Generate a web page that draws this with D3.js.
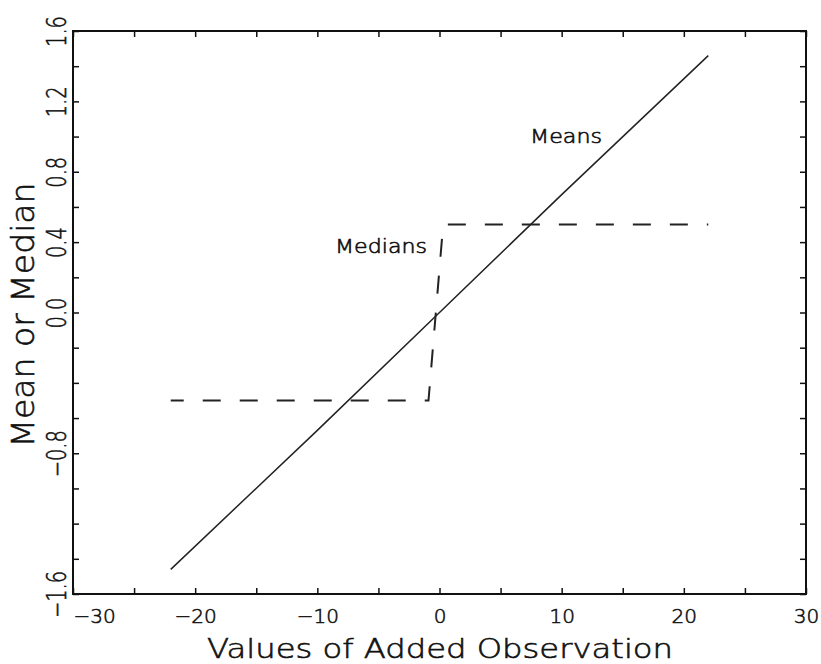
<!DOCTYPE html>
<html>
<head>
<meta charset="utf-8">
<script src="https://cdn.jsdelivr.net/npm/d3@7"></script>
<style>
  body { margin: 0; background: #fff; }
  svg { display: block; font-family: "DejaVu Sans", sans-serif; }
  svg text { font-weight: 200; stroke: #111; stroke-width: 0.6px; }
</style>
</head>
<body>
<div id="view"></div>
<script>
// values
var meanX = [-22, -10, 0, 10, 22];
var meanY = [-1.46, -0.67, 0, 0.67, 1.46];

var medX = [-22, -0.9, 0.3, 22];
var medY = [-0.5, -0.5, 0.5, 0.5];

var xTicks = [-30, -25, -20, -15, -10, -5, 0, 5, 10, 15, 20, 25, 30];
var xLabels = [-30, -20, -10, 0, 10, 20, 30];
var yTicks = [-1.6, -1.4, -1.2, -1.0, -0.8, -0.6, -0.4, -0.2, 0, 0.2, 0.4, 0.6, 0.8, 1.0, 1.2, 1.4, 1.6];
var yLabels = [-1.6, -0.8, 0, 0.4, 0.8, 1.2, 1.6];

var W = 821, H = 664;
var L = 73, R = 806, T = 31, B = 594;

var x = d3.scaleLinear().domain([-30, 30]).range([L, R]);
var y = d3.scaleLinear().domain([-1.6, 1.6]).range([B, T]);

function fmt(v) { return d3.format(".1f")(v).replace("-", "\u2212"); }
function fmtX(v) { return xLabels.indexOf(v) >= 0 ? String(v).replace("-", "\u2212") : ""; }

var svg = d3.select("#view").append("svg").attr("width", W).attr("height", H);

// bottom axis with labels
var gx = svg.append("g").attr("transform", "translate(0," + B + ")")
  .call(d3.axisBottom(x).tickValues(xTicks).tickSizeInner(-6).tickSizeOuter(0).tickPadding(15).tickFormat(fmtX));
gx.selectAll("text").attr("font-size", 20).attr("font-family", "DejaVu Sans").attr("fill", "#111");
gx.selectAll(".tick").filter(function(d) { return d == -30; }).select("text")
  .attr("text-anchor", "start").attr("x", 0);

// top and right ticks
svg.append("g").attr("transform", "translate(0," + T + ")")
  .call(d3.axisTop(x).tickValues(xTicks).tickSizeInner(-6).tickSizeOuter(0).tickFormat(""));
svg.append("g").attr("transform", "translate(" + R + ",0)")
  .call(d3.axisRight(y).tickValues(yTicks).tickSizeInner(-6).tickSizeOuter(0).tickFormat(""));

// left axis, labels turned up the side
var gy = svg.append("g").attr("transform", "translate(" + L + ",0)")
  .call(d3.axisLeft(y).tickValues(yTicks).tickSizeInner(-6).tickSizeOuter(0)
    .tickFormat(function(v) {
      return yLabels.some(function(l) { return Math.abs(l - v) < 1e-9; }) ? fmt(v) : "";
    }));
gy.selectAll("text")
  .attr("x", null).attr("dy", null)
  .attr("text-anchor", "middle")
  .attr("font-size", 27).attr("font-family", "DejaVu Sans").attr("fill", "#111")
  .attr("transform", "translate(-7,0) scale(1,0.72) rotate(-90)");

svg.selectAll(".domain").remove();
svg.selectAll(".tick line").attr("stroke", "#111").attr("stroke-width", 1.5);

// frame
svg.append("rect").attr("x", L).attr("y", T).attr("width", R - L).attr("height", B - T)
  .attr("fill", "none").attr("stroke", "#111").attr("stroke-width", 2);

var line = d3.line().x(function(d) { return x(d[0]); }).y(function(d) { return y(d[1]); });

svg.append("path").datum(d3.zip(meanX, meanY)).attr("d", line)
  .attr("fill", "none").attr("stroke", "#222").attr("stroke-width", 1.5);

svg.append("path").datum(d3.zip(medX, medY)).attr("d", line)
  .attr("fill", "none").attr("stroke", "#222").attr("stroke-width", 2)
  .attr("stroke-dasharray", "18,19").attr("stroke-dashoffset", 5);

// labels
svg.append("text").attr("x", 530).attr("y", 143).attr("font-size", 19)
  .attr("textLength", 72).attr("lengthAdjust", "spacingAndGlyphs").attr("fill", "#111").text("Means");
svg.append("text").attr("x", 335).attr("y", 253).attr("font-size", 19)
  .attr("textLength", 92).attr("lengthAdjust", "spacingAndGlyphs").attr("fill", "#111").text("Medians");

svg.append("text").attr("x", 207).attr("y", 658).attr("font-size", 27)
  .attr("textLength", 466).attr("lengthAdjust", "spacingAndGlyphs").attr("fill", "#111")
  .text("Values of Added Observation");

svg.append("text").attr("transform", "translate(34,315) rotate(-90)")
  .attr("text-anchor", "middle").attr("font-size", 32)
  .attr("textLength", 265).attr("lengthAdjust", "spacingAndGlyphs").attr("fill", "#111")
  .text("Mean or Median");
</script>
</body>
</html>
